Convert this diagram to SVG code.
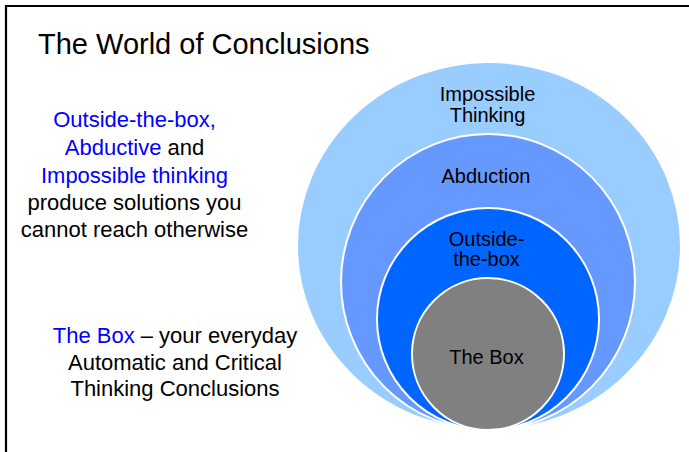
<svg xmlns="http://www.w3.org/2000/svg" width="689" height="452" viewBox="0 0 689 452">
<style>
text{font-family:"Liberation Sans",Arial,sans-serif;fill:#000}
.t{font-size:22px;text-anchor:middle}
.b{fill:#0000FF}
.lbl{font-size:20px;text-anchor:middle}
.ring{stroke:#FFFFFF;stroke-width:2}
</style>
<rect width="689" height="452" fill="#FFFFFF"/>
<g id="frame" stroke="#000" stroke-width="2.2" fill="none">
<line x1="5" y1="6" x2="689" y2="6"/>
<line x1="6" y1="5" x2="6" y2="452"/>
</g>
<text id="title" x="38" y="54" font-size="29">The World of Conclusions</text>
<g id="note1">
<text class="t" x="134.5" y="127"><tspan class="b">Outside-the-box,</tspan></text>
<text class="t" x="134.5" y="155"><tspan class="b">Abductive</tspan> and</text>
<text class="t" x="134.5" y="183"><tspan class="b">Impossible thinking</tspan></text>
<text class="t" x="134.5" y="210">produce solutions you</text>
<text class="t" x="134.5" y="237">cannot reach otherwise</text>
</g>
<g id="note2">
<text class="t" x="175" y="343"><tspan class="b">The Box</tspan> – your everyday</text>
<text class="t" x="175" y="370">Automatic and Critical</text>
<text class="t" x="175" y="396">Thinking Conclusions</text>
</g>
<g id="connectors"/>
<g id="impossible">
<ellipse class="ring" cx="489" cy="246" rx="192" ry="184" fill="#99CCFF"/>
<text class="lbl" x="487.5" y="101">Impossible</text>
<text class="lbl" x="487.5" y="122">Thinking</text>
</g>
<g id="abduction">
<ellipse class="ring" cx="488" cy="282" rx="147" ry="148" fill="#6699FF"/>
<text class="lbl" x="486" y="183">Abduction</text>
</g>
<g id="outside">
<circle class="ring" cx="488" cy="319" r="111" fill="#0066FF"/>
<text class="lbl" x="486.5" y="246">Outside-</text>
<text class="lbl" x="486.5" y="266">the-box</text>
</g>
<g id="box">
<circle class="ring" cx="488" cy="354" r="76" fill="#808080"/>
<text class="lbl" x="486.5" y="364">The Box</text>
</g>
</svg>
